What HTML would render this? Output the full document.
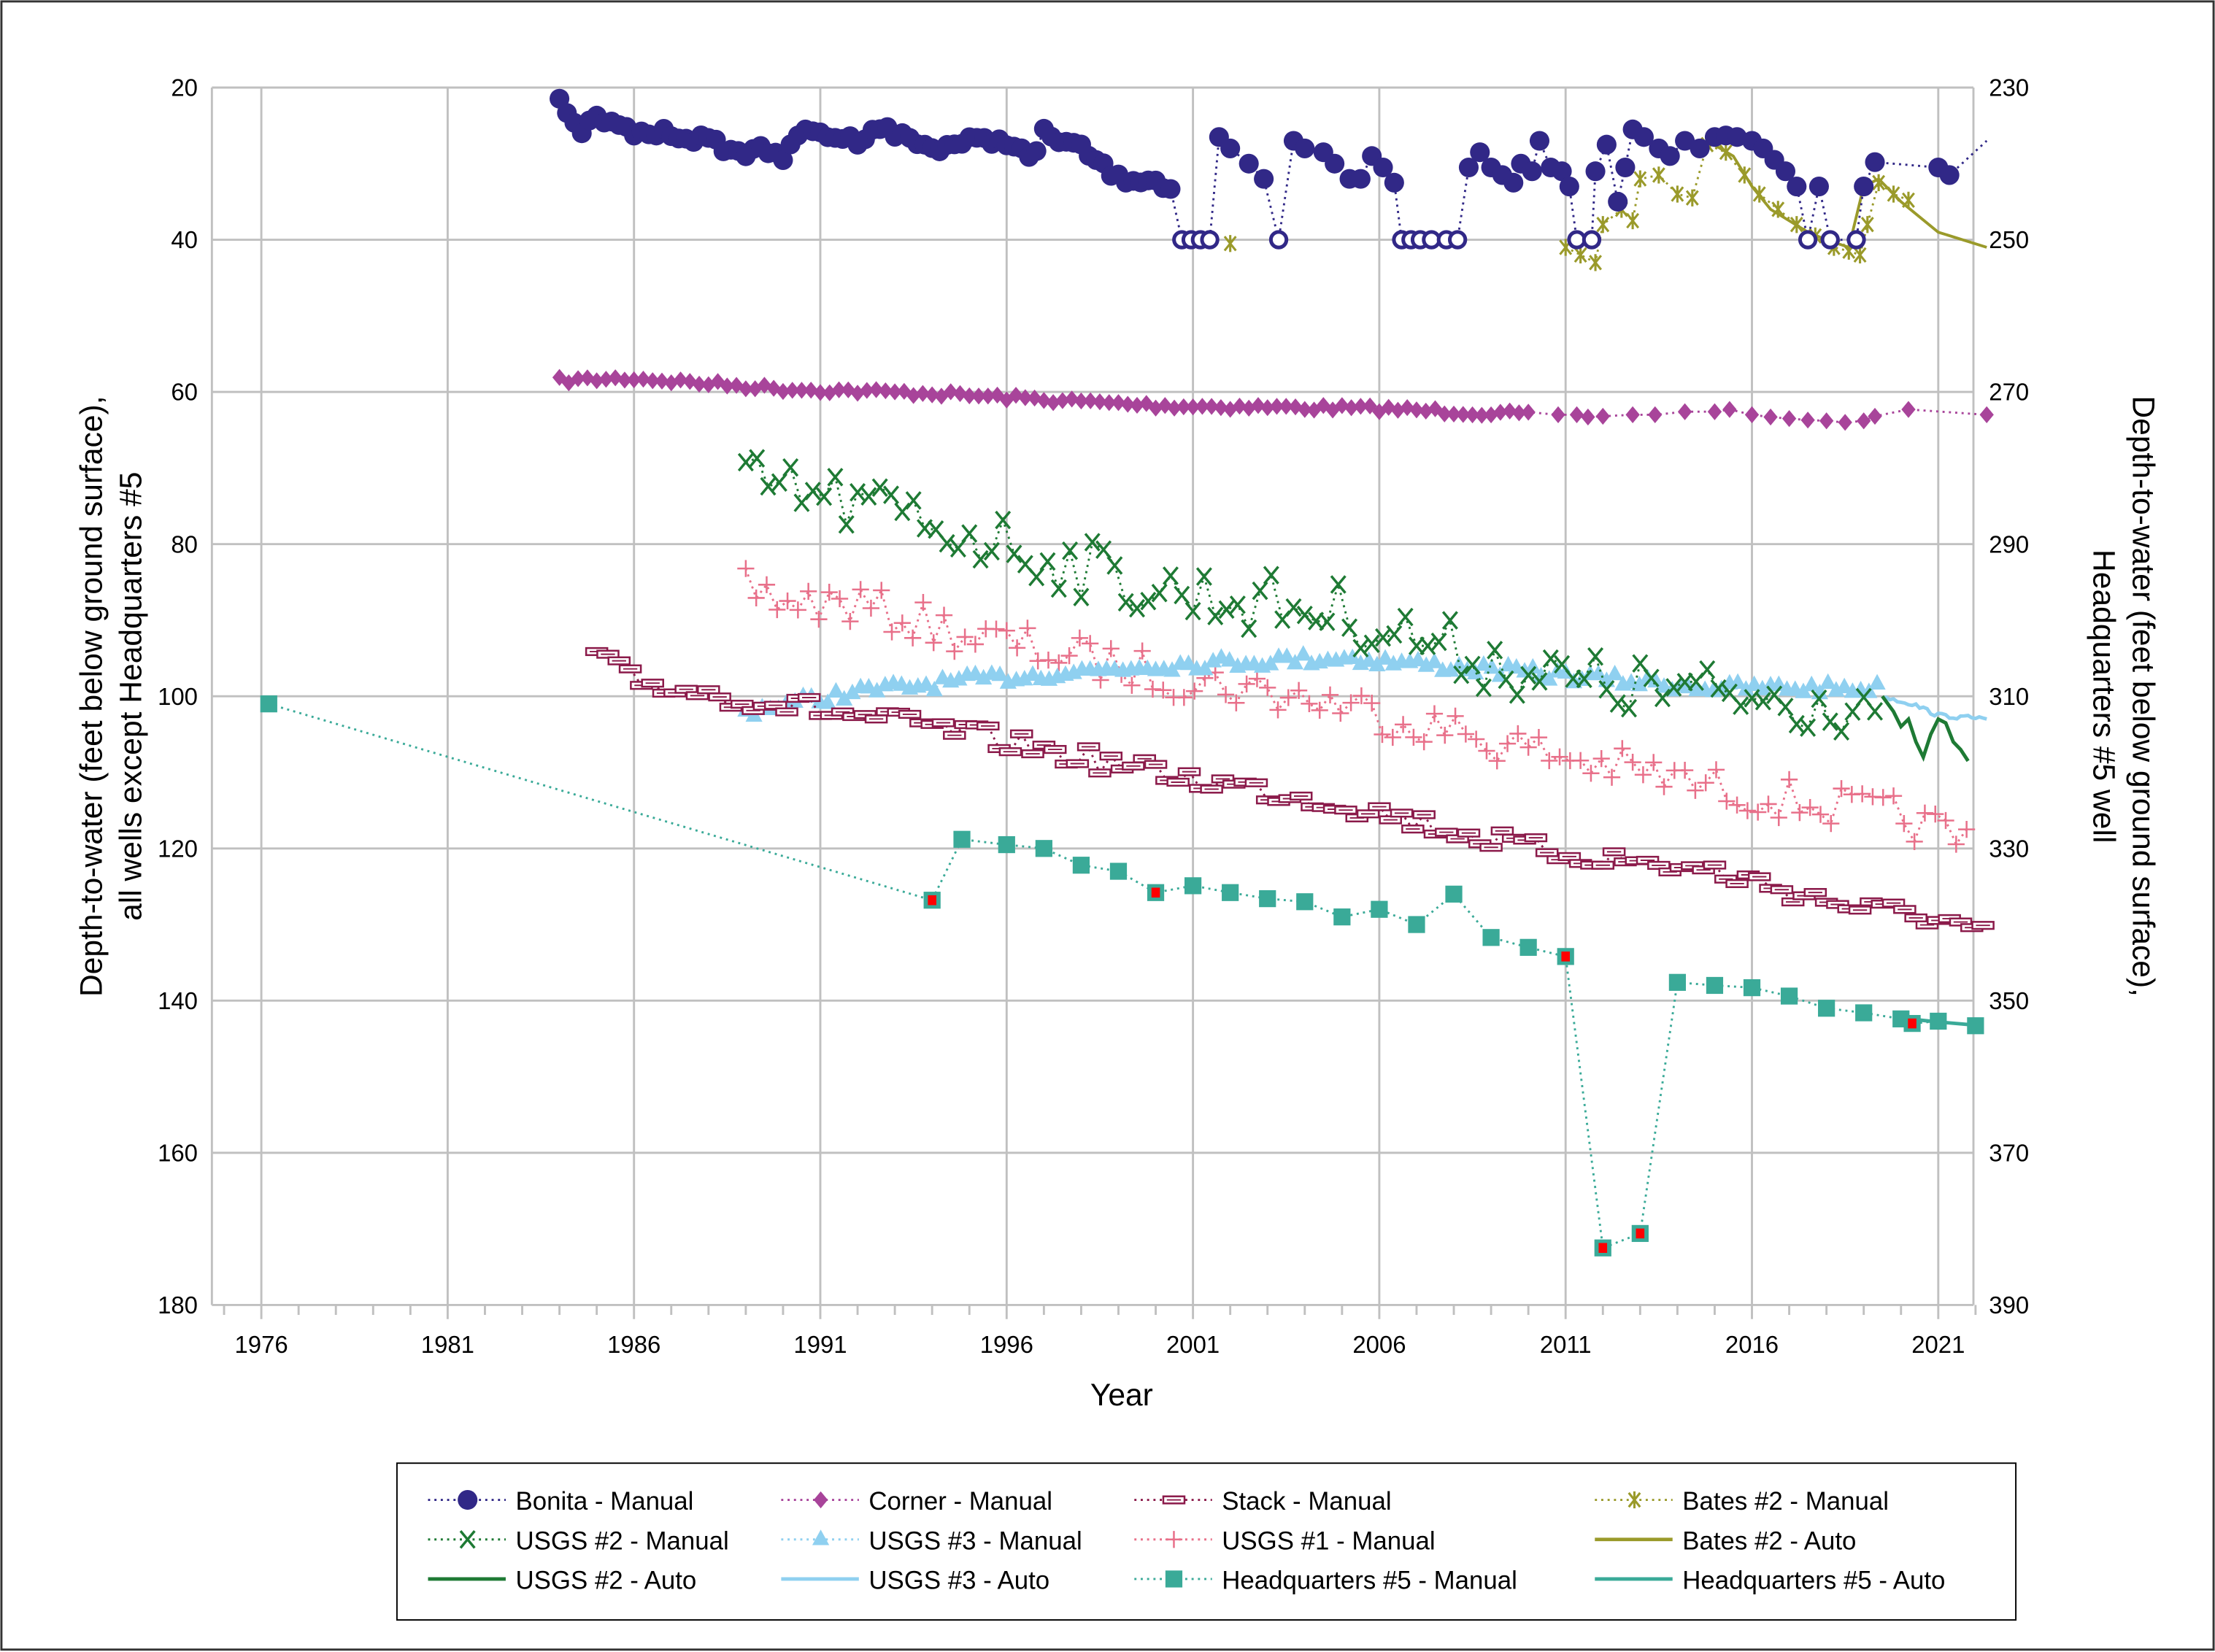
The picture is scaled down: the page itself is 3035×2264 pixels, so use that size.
<!DOCTYPE html>
<html><head><meta charset="utf-8"><style>
html,body{margin:0;padding:0;background:#fff}
svg{display:block}
text{font-family:"Liberation Sans",sans-serif}
</style></head><body>
<svg id="s" width="3035" height="2264" viewBox="0 0 1568 1169.7" preserveAspectRatio="none" xmlns="http://www.w3.org/2000/svg">
<rect x="1" y="1" width="1566" height="1167" fill="#fff" stroke="#333" stroke-width="1.5"/>
<g id="grid"></g>
<g id="data"></g>
<g id="labels" font-size="17" fill="#000"></g>
<text x="794" y="995" font-size="22" text-anchor="middle">Year</text>
<text transform="translate(72,493) rotate(-90)" font-size="22" text-anchor="middle">Depth-to-water (feet below ground surface),</text>
<text transform="translate(100,493) rotate(-90)" font-size="22" text-anchor="middle">all wells except Headquarters #5</text>
<text transform="translate(1510,493) rotate(90)" font-size="22" text-anchor="middle">Depth-to-water (feet below ground surface),</text>
<text transform="translate(1482,493) rotate(90)" font-size="22" text-anchor="middle">Headquarters #5 well</text>
<rect x="281" y="1036" width="1146" height="111" fill="#fff" stroke="#000" stroke-width="1"/>
<g id="legend" font-size="18"></g>
</svg>
<script>
const NS="http://www.w3.org/2000/svg";
function X(y){return 185+(y-1976)*26.38}
function Y(v){return 62+(v-20)*5.3875}
function el(p,t,a){const e=document.createElementNS(NS,t);for(const k in a)e.setAttribute(k,a[k]);p.appendChild(e);return e}
const G=document.getElementById('grid'),D=document.getElementById('data'),L=document.getElementById('labels'),LG=document.getElementById('legend');
for(let v=20;v<=180;v+=20){el(G,'line',{x1:150,x2:1397,y1:Y(v),y2:Y(v),stroke:'#c0c0c0','stroke-width':1.5});
 const t=el(L,'text',{x:140,y:Y(v)+6,'text-anchor':'end'});t.textContent=v;
 const t2=el(L,'text',{x:1408,y:Y(v)+6});t2.textContent=v+210;}
for(let yr=1976;yr<=2021;yr+=5){el(G,'line',{x1:X(yr),x2:X(yr),y1:62,y2:934,stroke:'#c0c0c0','stroke-width':1.5});
 const t=el(L,'text',{x:X(yr),y:958,'text-anchor':'middle'});t.textContent=yr;}
for(let yr=1975;yr<=2022;yr++){if((yr-1976)%5)el(G,'line',{x1:X(yr),x2:X(yr),y1:924,y2:931,stroke:'#c0c0c0','stroke-width':1.5});}
el(G,'line',{x1:150,x2:150,y1:62,y2:924,stroke:'#c0c0c0','stroke-width':1.5});
el(G,'line',{x1:1397,x2:1397,y1:62,y2:924,stroke:'#c0c0c0','stroke-width':1.5});
let seed=7;function rnd(){seed=(seed*16807)%2147483647;return seed/2147483647}
function interp(kp,x){for(let i=0;i<kp.length-1;i++){if(x>=kp[i][0]&&x<=kp[i+1][0]){const f=(x-kp[i][0])/(kp[i+1][0]-kp[i][0]);return kp[i][1]+f*(kp[i+1][1]-kp[i][1])}}return kp[kp.length-1][1]}
function sample(kp,step,noise){const p=[];for(let x=kp[0][0];x<=kp[kp.length-1][0]+1e-6;x+=step)p.push([x,interp(kp,x)+(rnd()-0.5)*2*noise]);return p}
function line(pts,col,dash,w){el(D,'polyline',{points:pts.map(p=>X(p[0]).toFixed(1)+','+Y(p[1]).toFixed(1)).join(' '),fill:'none',stroke:col,'stroke-width':w||1.5,'stroke-dasharray':dash?'1.5 3':'none'})}
function marker(type,x,y,col){
 if(type=='circle')el(D,'circle',{cx:x,cy:y,r:7,fill:col});
 else if(type=='ocircle')el(D,'circle',{cx:x,cy:y,r:5.5,fill:'#fff',stroke:col,'stroke-width':2.6});
 else if(type=='diamond')el(D,'polygon',{points:`${x},${y-6} ${x+5},${y} ${x},${y+6} ${x-5},${y}`,fill:col});
 else if(type=='x'){el(D,'path',{d:`M${x-5},${y-6}L${x+5},${y+6}M${x+5},${y-6}L${x-5},${y+6}`,stroke:col,'stroke-width':1.8})}
 else if(type=='star'){el(D,'path',{d:`M${x-4},${y-5}L${x+4},${y+5}M${x+4},${y-5}L${x-4},${y+5}M${x},${y-6}L${x},${y+6}`,stroke:col,'stroke-width':1.6})}
 else if(type=='plus'){el(D,'path',{d:`M${x-6},${y}L${x+6},${y}M${x},${y-6}L${x},${y+6}`,stroke:col,'stroke-width':1.3})}
 else if(type=='tri')el(D,'polygon',{points:`${x},${y-7} ${x+6},${y+4} ${x-6},${y+4}`,fill:col});
 else if(type=='rect'){el(D,'rect',{x:x-7.5,y:y-2.5,width:15,height:5,fill:'#fff',stroke:col,'stroke-width':1.3});el(D,'line',{x1:x-5,x2:x+5,y1:y,y2:y,stroke:col,'stroke-width':1})}
 else if(type=='sq'){el(D,'rect',{x:x-6,y:y-6,width:12,height:12,fill:col})}
 else if(type=='sqr'){el(D,'rect',{x:x-6,y:y-6,width:12,height:12,fill:col});el(D,'rect',{x:x-3,y:y-3.5,width:6,height:7,fill:'#f00'})}
}
function series(pts,col,type){line(pts,col,true);pts.forEach(p=>marker(p[2]||type,X(p[0]),Y(p[1]),col))}
const corner=sample([[1984,58.5],[1986,58.2],[1990,59.6],[1994,60.2],[2000,61.8],[2006,62.2],[2010,63]],0.25,0.4).concat([[2010.8,63],[2011.3,63],[2011.6,63.3],[2012,63.2],[2012.8,63],[2013.4,63],[2014.2,62.6],[2015,62.6],[2015.4,62.3],[2016,63],[2016.5,63.3],[2017,63.5],[2017.5,63.7],[2018,63.8],[2018.5,64],[2019,63.8],[2019.3,63.2],[2020.2,62.3],[2022.3,63]]);
series(corner,'#a8449a','diamond');
series(sample([[1989,86],[1990,87.5],[1992,88],[1995,92],[2000,97],[2005,101],[2010,107],[2015,112],[2020,116],[2021.8,119]],0.28,2.8),'#e8708a','plus');
series(sample([[1989,102],[1992,99.5],[1995,98],[2000,96],[2005,95],[2010,97],[2015,99],[2019.5,99]],0.22,0.8),'#8fd0f0','tri');
line(sample([[2019.5,100],[2020.3,101],[2021,102.5],[2022.3,103]],0.1,0.3),'#8fd0f0',false,2.5);
series(sample([[1985,95],[1986,98],[1990,101],[1995,105],[2000,110],[2005,114],[2010,120],[2015,123],[2019,128],[2021,129],[2022.3,131.5]],0.3,1.6),'#8b1a4a','rect');
series(sample([[1989,72],[1991,74],[1993,76],[1996,80],[2000,86],[2005,89],[2008,94],[2011,98],[2015,100],[2019.5,101]],0.3,4),'#1e7a34','x');
line([[2019.5,100],[2019.8,102],[2020,104],[2020.2,103],[2020.4,106],[2020.6,108],[2020.8,105],[2021,103],[2021.2,103.5],[2021.4,106],[2021.6,107],[2021.8,108.5]],'#1e7a34',false,2.5);
series([[2002,40.5]],'#9a9a2a','star');
series([[2011,41],[2011.4,42],[2011.8,43],[2012,38],[2012.5,36],[2012.8,37.5],[2013,32],[2013.5,31.5],[2014,34],[2014.4,34.5],[2014.8,27.5],[2015.3,28.5],[2015.8,31.5],[2016.2,34],[2016.7,36],[2017.2,38],[2017.7,39.5],[2018.2,41],[2018.6,41.5],[2018.9,42],[2019.1,38],[2019.4,32.5],[2019.8,34],[2020.2,34.8]],'#9a9a2a','star');
line([[2014.8,27],[2015.5,29],[2016,33],[2016.5,36],[2017,37.5],[2017.5,39],[2018,40],[2018.6,41],[2019,33],[2019.4,32],[2020,35],[2021,39],[2022.3,41]],'#9a9a2a',false,2);
const bk=[[1984,22],[1984.5,26],[1985,24],[1986,26],[1987,26],[1988,27],[1989,29],[1989.3,27],[1990,30],[1990.3,26],[1991,26],[1992,27],[1992.5,25],[1993,26],[1994,28],[1994.5,27.5],[1995,27],[1996,27],[1996.7,29.5],[1997,26],[1998,28],[1999,32],[2000,32],[2000.5,34]];
const bon=sample(bk,0.2,0.6);
for(const t of [2000.7,2000.95,2001.2,2001.45])bon.push([t,40,'ocircle']);
[[2001.7,26.5],[2002,28],[2002.5,30],[2002.9,32],[2003.3,40,'ocircle'],[2003.7,27],[2004,28],[2004.5,28.5],[2004.8,30],[2005.2,32],[2005.5,32],[2005.8,29],[2006.1,30.5],[2006.4,32.5],[2006.6,40,'ocircle'],[2006.85,40,'ocircle'],[2007.1,40,'ocircle'],[2007.4,40,'ocircle'],[2007.8,40,'ocircle'],[2008.1,40,'ocircle'],[2008.4,30.5],[2008.7,28.5],[2009,30.5],[2009.3,31.5],[2009.6,32.5],[2009.8,30],[2010.1,31],[2010.3,27],[2010.6,30.5],[2010.9,31],[2011.1,33],[2011.3,40,'ocircle'],[2011.7,40,'ocircle'],[2011.8,31],[2012.1,27.5],[2012.4,35],[2012.6,30.5],[2012.8,25.5],[2013.1,26.5],[2013.5,28],[2013.8,29],[2014.2,27],[2014.6,28],[2015,26.5],[2015.3,26.3],[2015.6,26.5],[2016,27],[2016.3,28],[2016.6,29.5],[2016.9,31],[2017.2,33],[2017.5,40,'ocircle'],[2017.8,33],[2018.1,40,'ocircle'],[2018.8,40,'ocircle'],[2019,33],[2019.3,29.8],[2021,30.5],[2021.3,31.5]].forEach(p=>bon.push(p));
line(bon.concat([[2022.3,27]]),'#312887',true);
bon.forEach(p=>marker(p[2]||'circle',X(p[0]),Y(p[1]),'#312887'));
const hq=[[1976.2,101],[1994,126.8,'sqr'],[1994.8,118.8],[1996,119.5],[1997,120],[1998,122.2],[1999,123],[2000,125.8,'sqr'],[2001,124.9],[2002,125.8],[2003,126.6],[2004,127],[2005,129],[2006,128],[2007,130],[2008,126],[2009,131.7],[2010,133],[2011,134.2,'sqr'],[2012,172.5,'sqr'],[2013,170.6,'sqr'],[2014,137.6],[2015,138],[2016,138.3],[2017,139.4],[2018,141],[2019,141.6],[2020,142.4],[2020.3,143,'sqr'],[2021,142.7],[2022,143.3]];
line(hq,'#3aaa98',true);
line([[2020,142.3],[2021,142.8],[2022.2,143.3]],'#3aaa98',false,2.5);
hq.forEach(p=>marker(p[2]||'sq',X(p[0]),Y(p[1]),'#3aaa98'));
const items=[['Bonita - Manual','#312887','circle',1],['Corner - Manual','#a8449a','diamond',1],['Stack - Manual','#8b1a4a','rect',1],['Bates #2 - Manual','#9a9a2a','star',1],
['USGS #2 - Manual','#1e7a34','x',1],['USGS #3 - Manual','#8fd0f0','tri',1],['USGS #1 - Manual','#e8708a','plus',1],['Bates #2 - Auto','#9a9a2a',null,0],
['USGS #2 - Auto','#1e7a34',null,0],['USGS #3 - Auto','#8fd0f0',null,0],['Headquarters #5 - Manual','#3aaa98','sq',1],['Headquarters #5 - Auto','#3aaa98',null,0]];
const cx=[303,553,803,1129];
items.forEach((it,i)=>{const c=i%4,r=Math.floor(i/4);const x0=cx[c],y=1062+r*28;
 el(LG,'line',{x1:x0,x2:x0+55,y1:y,y2:y,stroke:it[1],'stroke-width':it[3]?1.5:2.5,'stroke-dasharray':it[3]?'1.5 3':'none'});
 if(it[2]){const n0=D.childNodes.length;marker(it[2],x0+28,y,it[1]);while(D.childNodes.length>n0)LG.appendChild(D.childNodes[n0]);}
 const t=el(LG,'text',{x:x0+62,y:y+7});t.textContent=it[0];});
</script>
</body></html>
